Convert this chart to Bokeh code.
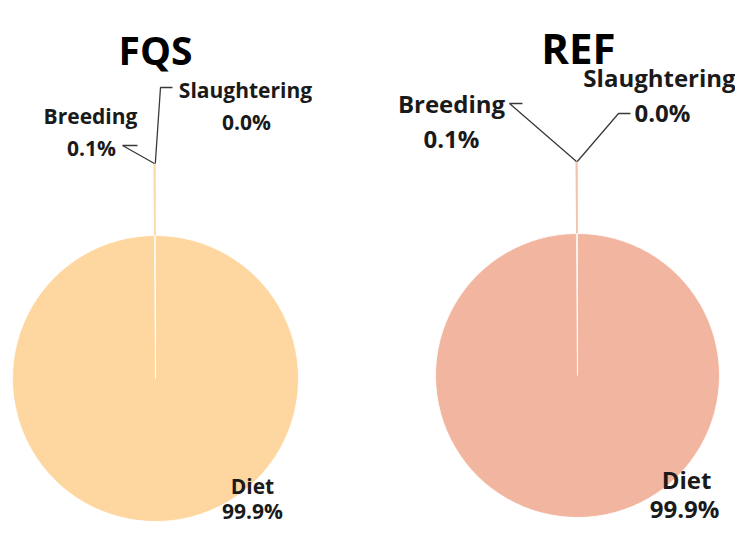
import math
from bokeh.plotting import figure
from bokeh.models import Range1d, ColumnDataSource
from bokeh.core.properties import value
from bokeh.embed import file_html
from bokeh.resources import INLINE

# ---------------- data ----------------
categories = ["Diet", "Breeding", "Slaughtering"]
fqs_values = [99.87, 0.10, 0.03]
ref_values = [99.88, 0.09, 0.03]
titles = ["FQS", "REF"]

# ---------------- layout / style ----------------
W, H = 735, 526
PAGE_H = 534


def Y(v):
    return PAGE_H - v


pies = [
    dict(values=fqs_values, title="FQS", cx=155, cy=378, r=143, explode=72,
         colors=["#FED69F", "#FBDCA8", "#FDE9C8"],
         title_pos=(155, 49), title_size="39px", label_size="21px",
         label_pos={"Diet": [(252, 485), (252, 510)],
                    "Breeding": [(90, 115), (91, 147)],
                    "Slaughtering": [(245, 89), (246, 121)]},
         leaders={"Breeding": [(122, 145), (137, 145)],
                  "Slaughtering": [(160, 87), (172, 87)]}),
    dict(values=ref_values, title="REF", cx=577, cy=375, r=142, explode=72,
         colors=["#F2B6A0", "#F1C2AD", "#FAE1D6"],
         title_pos=(578, 47), title_size="42px", label_size="24px",
         label_pos={"Diet": [(686, 479), (684, 508)],
                    "Breeding": [(451, 103), (451, 138)],
                    "Slaughtering": [(659, 77), (662, 112)]},
         leaders={"Breeding": [(509, 103), (522, 103)],
                  "Slaughtering": [(618, 113), (630, 113)]}),
]

p = figure(width=W, height=H, output_backend="svg", toolbar_location=None,
           x_range=Range1d(0, W), y_range=Range1d(PAGE_H - H, PAGE_H),
           min_border=0)
p.axis.visible = False
p.grid.visible = False
p.outline_line_color = None

FONT = value("Open Sans")

for pie in pies:
    vals = pie["values"]
    total = sum(vals)
    cum = 0.0
    wedges = []
    for cat, v, col in zip(categories, vals, pie["colors"]):
        f0 = cum / total
        cum += v
        f1 = cum / total
        # clockwise from 12 o'clock
        start = math.radians(90 - 360 * f1)
        end = math.radians(90 - 360 * f0)
        mid = (start + end) / 2
        off = 0 if cat == "Diet" else pie["explode"]
        wx = pie["cx"] + off * math.cos(mid)
        wy = Y(pie["cy"]) + off * math.sin(mid)
        wedges.append(dict(cat=cat, x=wx, y=wy, start=start, end=end, color=col, mid=mid, v=v))

    # exploded small slices first, Diet on top
    for w in wedges[1:][::-1]:
        src = ColumnDataSource(dict(x=[w["x"]], y=[w["y"]], s=[w["start"]], e=[w["end"]]))
        p.wedge(x="x", y="y", radius=pie["r"], start_angle="s", end_angle="e",
                source=src, fill_color=w["color"], line_color=w["color"], line_width=1.2)
    d = wedges[0]
    src = ColumnDataSource(dict(x=[d["x"]], y=[d["y"]], s=[d["start"]], e=[d["end"]]))
    p.wedge(x="x", y="y", radius=pie["r"], start_angle="s", end_angle="e",
            source=src, fill_color=d["color"], line_color="white", line_width=0.8)

    # leader lines from the tip of the exploded slices
    for w in wedges[1:]:
        tipx = w["x"] + pie["r"] * math.cos(w["mid"])
        tipy = w["y"] + pie["r"] * math.sin(w["mid"])
        pts = pie["leaders"][w["cat"]]
        xs = [tipx] + [pt[0] for pt in pts]
        ys = [tipy] + [Y(pt[1]) for pt in pts]
        p.line(xs, ys, line_color="#3a3a3a", line_width=1.3)

    # data labels
    for cat, v in zip(categories, vals):
        (nx, ny), (px, py) = pie["label_pos"][cat]
        pct = "{:.1f}%".format(100 * v / total)
        p.text(x=[nx, px], y=[Y(ny), Y(py)], text=[cat, pct],
               text_font=FONT, text_font_style="bold", text_font_size=value(pie["label_size"]),
               text_align="center", text_baseline="alphabetic", text_color="#1a1a1a")

    # title
    tx, ty = pie["title_pos"]
    p.text(x=[tx], y=[Y(ty)], text=[pie["title"]], text_font=FONT, text_font_style="bold",
           text_font_size=value(pie["title_size"]), text_align="center",
           text_baseline="alphabetic", text_color="#000000")

open("out.html", "w").write(file_html(p, INLINE))
